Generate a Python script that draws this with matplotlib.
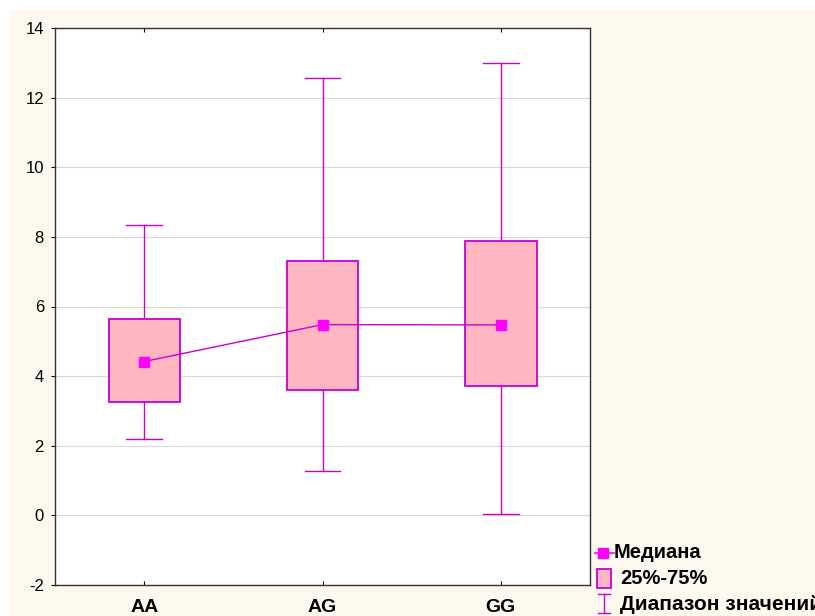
import matplotlib.pyplot as plt
from matplotlib.patches import Rectangle
from matplotlib.lines import Line2D

# Data
groups = ["AA", "AG", "GG"]
w_low = [2.2, 1.28, 0.04]
q1 = [3.27, 3.61, 3.73]
medians = [4.42, 5.48, 5.47]
q3 = [5.63, 7.32, 7.87]
w_high = [8.33, 12.57, 13.0]

edge = "#CC00CC"
fill = "#FFB6C1"
mark = "#FF00FF"

plt.rcParams["font.family"] = ["Liberation Sans", "DejaVu Sans"]
plt.rcParams["axes.unicode_minus"] = False

fig = plt.figure(figsize=(8.15, 6.16), dpi=100)
fig.patches.append(Rectangle((10 / 815, 0), 1, (616 - 10) / 616,
                             transform=fig.transFigure, color="#FEF9EE", zorder=-5))

ax = fig.add_axes([55 / 815, 1 - 585 / 616, 535 / 815, 557 / 616])
ax.set_zorder(2)
ax.set_facecolor("white")

x = list(range(len(groups)))
for i in x:
    # whiskers
    ax.plot([i, i], [w_low[i], q1[i]], color=edge, lw=1, zorder=2)
    ax.plot([i, i], [q3[i], w_high[i]], color=edge, lw=1, zorder=2)
    ax.plot([i - 0.1, i + 0.1], [w_low[i]] * 2, color=edge, lw=1, zorder=2)
    ax.plot([i - 0.1, i + 0.1], [w_high[i]] * 2, color=edge, lw=1, zorder=2)
    # box
    ax.add_patch(Rectangle((i - 0.2, q1[i]), 0.4, q3[i] - q1[i],
                           facecolor=fill, edgecolor=edge, lw=1.3, zorder=3))

ax.plot(x, medians, color=edge, lw=1, marker="s", markersize=7,
        markerfacecolor=mark, markeredgecolor=mark, zorder=4)

ax.set_xlim(-0.5, 2.5)
ax.set_ylim(-2, 14)
ax.set_yticks(range(-2, 15, 2))
ax.set_xticks(x)
ax.set_xticklabels(groups, fontsize=14, fontweight="bold")
ax.tick_params(axis="y", direction="out", length=3, labelsize=12, pad=5)
ax.tick_params(axis="x", direction="in", length=3, top=True, pad=10)
ax.grid(axis="y", color="#D9D9D9", lw=0.8)
ax.set_axisbelow(True)
for s in ax.spines.values():
    s.set_color("#333333")
    s.set_linewidth(1)

# Legend drawn in figure pixels
def fx(px):
    return px / 815

def fy(py):
    return 1 - py / 616

fig.add_artist(Line2D([fx(595), fx(614)], [fy(553), fy(553)], color=mark, lw=1.2,
                      transform=fig.transFigure))
fig.add_artist(Line2D([fx(603)], [fy(553)], color=mark, marker="s", markersize=7,
                      lw=0, transform=fig.transFigure))
fig.text(fx(614), fy(553), "Медиана", fontsize=14.5, fontweight="bold", va="center")
fig.add_artist(Rectangle((fx(597), fy(588)), 14 / 815, 19 / 616, facecolor=fill,
                         edgecolor=edge, lw=1.3, transform=fig.transFigure))
fig.text(fx(620), fy(578), "25%-75%", fontsize=14.5, fontweight="bold", va="center")
fig.add_artist(Line2D([fx(604), fx(604)], [fy(594), fy(613)], color=edge, lw=1,
                      transform=fig.transFigure))
fig.add_artist(Line2D([fx(598), fx(610)], [fy(594), fy(594)], color=edge, lw=1,
                      transform=fig.transFigure))
fig.add_artist(Line2D([fx(598), fx(610)], [fy(613), fy(613)], color=edge, lw=1,
                      transform=fig.transFigure))
fig.text(fx(620), fy(604), "Диапазон значений", fontsize=15, fontweight="bold", va="center")

plt.savefig("out.png", dpi=100)
